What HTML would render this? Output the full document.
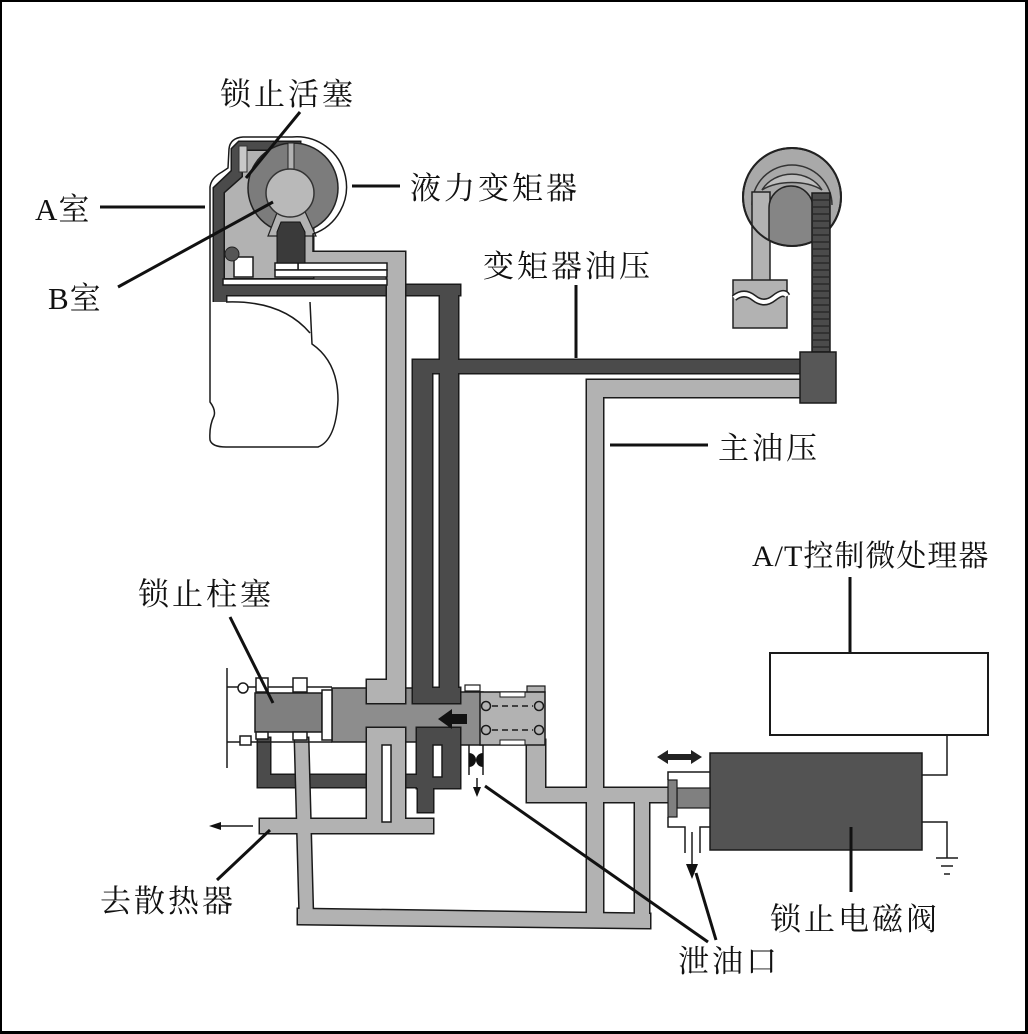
<!DOCTYPE html>
<html><head><meta charset="utf-8"><style>
html,body{margin:0;padding:0;background:#fff;}
svg{display:block;}
text{font-family:"Liberation Serif","Noto Serif CJK SC",serif;fill:#111;}
</style></head><body>
<svg width="1028" height="1034" viewBox="0 0 1028 1034" xmlns="http://www.w3.org/2000/svg">
<defs>
<g id="dk">
<polygon points="214,302 214,188 232,171 232,149 239,142 300,142 300,295 226,295 226,302"/>
<rect x="214" y="285" width="246" height="10"/>
<rect x="440" y="285" width="18" height="418"/>
<rect x="413" y="360" width="390" height="13"/>
<rect x="413" y="360" width="19" height="343"/>
<rect x="413" y="688" width="47" height="15"/>
<rect x="417" y="728" width="43" height="60"/>
<rect x="418" y="786" width="15" height="26"/>
<rect x="258" y="738" width="12" height="49"/>
<rect x="258" y="775" width="202" height="12"/>
</g>
<g id="lt">
<polygon points="225,278 225,193 243,177 243,151 296,151 296,200 313,200 313,278"/>
<rect x="300" y="252" width="105" height="11"/>
<rect x="387" y="252" width="18" height="451"/>
<rect x="367" y="680" width="38" height="23"/>
<rect x="367" y="728" width="38" height="105"/>
<rect x="260" y="819" width="173" height="14"/>
<polygon points="295,738 308,738 313,922 300,922"/>
<polygon points="298,909 650,914 650,928 298,924"/>
<rect x="587" y="380" width="16" height="540"/>
<rect x="587" y="380" width="215" height="17"/>
<rect x="635" y="790" width="14" height="130"/>
<rect x="527" y="788" width="141" height="14"/>
<rect x="527" y="740" width="18" height="62"/>
</g>
<clipPath id="pc"><circle cx="792" cy="197" r="49"/></clipPath>
</defs>
<rect width="1028" height="1034" fill="#fff"/>

<!-- valve body -->
<polygon points="332,688 460,688 460,692 483,692 483,745 453,745 453,742 332,742" fill="#8d8d8d" stroke="#1a1a1a" stroke-width="1.5"/>

<!-- dark pipes (union) -->
<use href="#dk" fill="#4b4b4b" stroke="#1a1a1a" stroke-width="3"/>
<use href="#dk" fill="#4b4b4b" stroke="none"/>
<!-- light pipes (union) -->
<use href="#lt" fill="#b2b2b2" stroke="#1a1a1a" stroke-width="3"/>
<use href="#lt" fill="#b2b2b2" stroke="none"/>

<!-- white slots / strips -->
<g fill="#fff" stroke="#1a1a1a" stroke-width="1.5">
<rect x="298" y="263" width="89" height="7"/>
<rect x="275" y="263" width="23" height="7"/>
<rect x="275" y="270" width="112" height="7"/>
<rect x="223" y="279" width="164" height="6"/>
<rect x="234" y="257" width="19" height="20"/>
<rect x="382" y="745" width="9" height="77"/>
<rect x="433" y="745" width="9" height="32"/>
</g>

<!-- torque converter internals -->
<circle cx="293" cy="188" r="45" fill="#7c7c7c" stroke="#222" stroke-width="1.5"/>
<rect x="288" y="143" width="6" height="26" fill="#b2b2b2" stroke="#222" stroke-width="1"/>
<polygon points="280,205 302,205 316,236 268,236" fill="#b2b2b2" stroke="#222" stroke-width="1.2"/>
<polygon points="281,222 300,222 305,232 305,263 277,263 277,232" fill="#3a3a3a" stroke="#111" stroke-width="1"/>
<circle cx="290" cy="193" r="24" fill="#b9b9b9" stroke="#333" stroke-width="1.5"/>
<rect x="239" y="146" width="8" height="26" fill="#c8c8c8" stroke="#333" stroke-width="1"/>
<circle cx="232" cy="254" r="7" fill="#555" stroke="#222" stroke-width="1"/>
<path d="M210,302 L210,187 Q211,178 222,172 L228,168 L229,149 Q230,138 243,137 L292,137 A50,50 0 0 1 313,234 L313,252" fill="none" stroke="#1a1a1a" stroke-width="1.5"/>
<path d="M210,302 L210,402 Q216,410 214,416 Q209,426 210,440 Q212,447 226,447 L318,447 Q336,440 338,400 Q338,362 312,344 L310,302" fill="#fff" stroke="#1a1a1a" stroke-width="1.5"/>
<path d="M226,302 Q282,300 310,333" fill="none" stroke="#1a1a1a" stroke-width="1.5"/>

<!-- pump top right -->
<circle cx="792" cy="197" r="49" fill="#a9a9a9" stroke="#222" stroke-width="2"/>
<path d="M752,205 A40,40 0 0 1 832,205" fill="none" stroke="#333" stroke-width="1.5"/>
<path d="M762,190 A34,30 0 0 1 822,190 A40,22 0 0 0 762,190 Z" fill="#bdbdbd" stroke="#333" stroke-width="1.5"/>
<rect x="752" y="192" width="18" height="90" fill="#b2b2b2" stroke="#222" stroke-width="1.5"/>
<path d="M769,252 L769,208 A22,22 0 0 1 813,208 L813,252 Z" fill="#858585" stroke="#222" stroke-width="1.5" clip-path="url(#pc)"/>
<circle cx="792" cy="197" r="49" fill="none" stroke="#222" stroke-width="2"/>
<rect x="733" y="280" width="54" height="48" fill="#b2b2b2" stroke="#222" stroke-width="1.5"/>
<path d="M734,298 Q744,290 754,298 T774,298 T787,296" fill="none" stroke="#222" stroke-width="7"/>
<path d="M734,298 Q744,290 754,298 T774,298 T787,296" fill="none" stroke="#fff" stroke-width="4"/>
<rect x="812" y="193" width="18" height="159" fill="#4b4b4b" stroke="#1a1a1a" stroke-width="1.5"/>
<g stroke="#2a2a2a" stroke-width="1.5">
<line x1="813" y1="200" x2="829" y2="200"/><line x1="813" y1="207" x2="829" y2="207"/><line x1="813" y1="214" x2="829" y2="214"/><line x1="813" y1="221" x2="829" y2="221"/><line x1="813" y1="228" x2="829" y2="228"/><line x1="813" y1="235" x2="829" y2="235"/><line x1="813" y1="242" x2="829" y2="242"/><line x1="813" y1="249" x2="829" y2="249"/><line x1="813" y1="256" x2="829" y2="256"/><line x1="813" y1="263" x2="829" y2="263"/><line x1="813" y1="270" x2="829" y2="270"/><line x1="813" y1="277" x2="829" y2="277"/><line x1="813" y1="284" x2="829" y2="284"/><line x1="813" y1="291" x2="829" y2="291"/><line x1="813" y1="298" x2="829" y2="298"/><line x1="813" y1="305" x2="829" y2="305"/><line x1="813" y1="312" x2="829" y2="312"/><line x1="813" y1="319" x2="829" y2="319"/><line x1="813" y1="326" x2="829" y2="326"/><line x1="813" y1="333" x2="829" y2="333"/><line x1="813" y1="340" x2="829" y2="340"/><line x1="813" y1="347" x2="829" y2="347"/>
</g>
<rect x="800" y="352" width="36" height="51" fill="#575757" stroke="#1a1a1a" stroke-width="1.5"/>

<!-- lock-up plunger (left) -->
<g stroke="#1a1a1a" stroke-width="1.5" fill="none">
<line x1="227" y1="668" x2="227" y2="768"/>
<line x1="227" y1="687" x2="332" y2="687"/>
<line x1="227" y1="742" x2="332" y2="742"/>
</g>
<circle cx="243" cy="688" r="5" fill="#fff" stroke="#1a1a1a" stroke-width="1.5"/>
<rect x="240" y="736" width="11" height="9" fill="#fff" stroke="#1a1a1a" stroke-width="1.5"/>
<rect x="255" y="693" width="67" height="39" fill="#7f7f7f" stroke="#1a1a1a" stroke-width="1.5"/>
<rect x="322" y="690" width="10" height="50" fill="#fff" stroke="#1a1a1a" stroke-width="1.5"/>
<g fill="#fff" stroke="#1a1a1a" stroke-width="1.5">
<rect x="256" y="678" width="12" height="14"/>
<rect x="293" y="678" width="14" height="14"/>
<rect x="256" y="732" width="12" height="7"/>
<rect x="293" y="732" width="14" height="8"/>
</g>

<!-- spring chamber -->
<rect x="465" y="685" width="15" height="6" fill="#fff" stroke="#1a1a1a" stroke-width="1.2"/>
<rect x="527" y="686" width="18" height="6" fill="#b2b2b2" stroke="#1a1a1a" stroke-width="1.2"/>
<rect x="480" y="692" width="65" height="53" fill="#b2b2b2" stroke="#1a1a1a" stroke-width="1.5"/>
<rect x="500" y="692" width="25" height="5" fill="#fff" stroke="#1a1a1a" stroke-width="1"/>
<rect x="500" y="740" width="25" height="5" fill="#fff" stroke="#1a1a1a" stroke-width="1"/>
<g fill="#b2b2b2" stroke="#1a1a1a" stroke-width="1.5">
<circle cx="486" cy="706" r="4.5"/><circle cx="539" cy="706" r="4.5"/>
<circle cx="486" cy="730" r="4.5"/><circle cx="539" cy="730" r="4.5"/>
</g>
<g stroke="#1a1a1a" stroke-width="1.5" stroke-dasharray="6,4">
<line x1="492" y1="706" x2="533" y2="706"/>
<line x1="492" y1="730" x2="533" y2="730"/>
</g>
<polygon points="438,719 452,709 452,714 467,714 467,724 452,724 452,729" fill="#111"/>

<!-- exhaust under valve -->
<g stroke="#1a1a1a" stroke-width="1.5">
<line x1="469" y1="745" x2="469" y2="775"/>
<line x1="483" y1="745" x2="483" y2="775"/>
<line x1="477" y1="778" x2="477" y2="790"/>
</g>
<path d="M469,753 A7,7 0 0 1 469,767 Z" fill="#111"/>
<path d="M483,753 A7,7 0 0 0 483,767 Z" fill="#111"/>
<polygon points="473,787 481,787 477,797" fill="#111"/>

<!-- radiator arrow -->
<line x1="253" y1="826" x2="218" y2="826" stroke="#1a1a1a" stroke-width="1.5"/>
<polygon points="209,826 221,822 221,830" fill="#111"/>

<!-- solenoid -->
<rect x="770" y="653" width="218" height="82" fill="#fff" stroke="#1a1a1a" stroke-width="2"/>
<rect x="710" y="753" width="212" height="97" fill="#535353" stroke="#1a1a1a" stroke-width="1.5"/>
<rect x="677" y="788" width="33" height="20" fill="#808080" stroke="#1a1a1a" stroke-width="1.2"/>
<rect x="668" y="780" width="9" height="37" fill="#808080" stroke="#1a1a1a" stroke-width="1.2"/>
<g stroke="#1a1a1a" stroke-width="1.5" fill="none">
<polyline points="668,780 668,772 710,772"/>
<polyline points="668,817 668,827 685,827 685,853"/>
<polyline points="700,853 700,827 710,827"/>
<line x1="692" y1="832" x2="692" y2="866"/>
<polyline points="947,735 947,775 922,775"/>
<polyline points="922,822 947,822 947,858"/>
<line x1="936" y1="858" x2="958" y2="858"/>
<line x1="941" y1="866" x2="953" y2="866"/>
<line x1="944" y1="874" x2="950" y2="874"/>
</g>
<polygon points="686,864 698,864 692,879" fill="#111"/>
<polygon points="657,757 668,750 668,754 691,754 691,750 702,757 691,764 691,760 668,760 668,764" fill="#222"/>

<!-- leader lines -->
<g stroke="#111" stroke-width="3" fill="none">
<line x1="300" y1="112" x2="246" y2="178"/>
<line x1="352" y1="186" x2="400" y2="186"/>
<line x1="100" y1="207" x2="205" y2="207"/>
<line x1="118" y1="287" x2="273" y2="202"/>
<line x1="576" y1="285" x2="576" y2="358"/>
<line x1="610" y1="445" x2="708" y2="445"/>
<line x1="850" y1="577" x2="850" y2="652"/>
<line x1="230" y1="617" x2="273" y2="703"/>
<line x1="217" y1="880" x2="270" y2="830"/>
<line x1="485" y1="786" x2="708" y2="942"/>
<line x1="696" y1="873" x2="716" y2="940"/>
<line x1="851" y1="827" x2="851" y2="892"/>
</g>

<!-- labels -->
<g font-size="31" letter-spacing="3">
<text x="220" y="105">锁止活塞</text>
<text x="410" y="199">液力变矩器</text>
<text x="35" y="220" letter-spacing="1">A室</text>
<text x="48" y="309" letter-spacing="1">B室</text>
<text x="483" y="277">变矩器油压</text>
<text x="718" y="459">主油压</text>
<text x="752" y="566" font-size="30" letter-spacing="1">A/T控制微处理器</text>
<text x="138" y="605">锁止柱塞</text>
<text x="100" y="912">去散热器</text>
<text x="770" y="930">锁止电磁阀</text>
<text x="678" y="972">泄油口</text>
</g>

<!-- frame -->
<g fill="#000">
<rect x="0" y="0" width="1028" height="2"/>
<rect x="0" y="1031" width="1028" height="3"/>
<rect x="0" y="0" width="2" height="1034"/>
<rect x="1025" y="0" width="3" height="1034"/>
</g>
</svg>
</body></html>
